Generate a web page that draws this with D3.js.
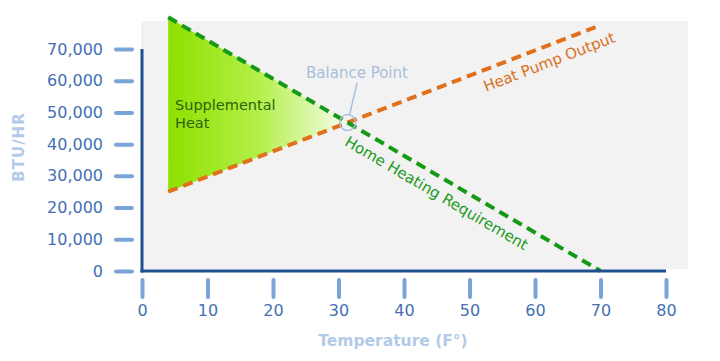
<!DOCTYPE html>
<html>
<head>
<meta charset="utf-8">
<script src="https://cdn.jsdelivr.net/npm/d3@7"></script>
<style>
  body { margin: 0; background: #fff; }
  svg { display: block; font-family: "DejaVu Sans", Verdana, sans-serif; }
</style>
</head>
<body>
<svg id="chart" width="720" height="361"></svg>
<script>
// data
var tempTicks = [0, 10, 20, 30, 40, 50, 60, 70, 80]
var btuTicks = [0, 10000, 20000, 30000, 40000, 50000, 60000, 70000]
var homeTemps = [4, 70]
var homeBtu = [80000, 0]
var pumpTemps = [4, 70]
var pumpBtu = [25000, 77500]

var svg = d3.select("#chart")

// scales
var x = d3.scaleLinear().domain([0, 80]).range([142, 666])
var y = d3.scaleLinear().domain([0, 70000]).range([271, 49])

// plot background
svg.append("rect")
    .attr("x", 141).attr("y", 21)
    .attr("width", 547).attr("height", 248)
    .attr("fill", "#f2f2f2")

// straight line helpers built from the two points of each series
function lineAt(ts, vs) {
    return d3.scaleLinear().domain(ts).range(vs)
}
var home = lineAt(homeTemps, homeBtu)
var pump = lineAt(pumpTemps, pumpBtu)

// balance point = where the two lines cross
var slopeH = (homeBtu[1] - homeBtu[0]) / (homeTemps[1] - homeTemps[0])
var slopeP = (pumpBtu[1] - pumpBtu[0]) / (pumpTemps[1] - pumpTemps[0])
var tBal = homeTemps[0] + (pump(homeTemps[0]) - home(homeTemps[0])) / (slopeH - slopeP)
var vBal = home(tBal)

// gradient for supplemental heat
var defs = svg.append("defs")
var grad = defs.append("linearGradient")
    .attr("id", "suppGrad")
    .attr("gradientUnits", "userSpaceOnUse")
    .attr("x1", x(homeTemps[0])).attr("x2", x(tBal))
    .attr("y1", 0).attr("y2", 0)
grad.append("stop").attr("offset", "0%").attr("stop-color", "#8ee000")
grad.append("stop").attr("offset", "50%").attr("stop-color", "#b4ef48")
grad.append("stop").attr("offset", "100%").attr("stop-color", "#f6fdef")

var area = d3.area()
    .x(function (d) { return x(d) })
    .y0(function (d) { return y(pump(d)) })
    .y1(function (d) { return y(home(d)) })

svg.append("path")
    .datum([homeTemps[0], tBal])
    .attr("d", area)
    .attr("fill", "url(#suppGrad)")

svg.append("text")
    .attr("x", 175).attr("y", 110)
    .attr("font-size", "14.5px")
    .attr("fill", "#2a650a")
    .text("Supplemental")
svg.append("text")
    .attr("x", 175).attr("y", 128)
    .attr("font-size", "14.5px")
    .attr("fill", "#2a650a")
    .text("Heat")

// dashed lines
var line = d3.line()
    .x(function (d) { return x(d[0]) })
    .y(function (d) { return y(d[1]) })

svg.append("path")
    .datum(d3.zip(pumpTemps, pumpBtu))
    .attr("d", line)
    .attr("fill", "none")
    .attr("stroke", "#e0701c")
    .attr("stroke-width", 4)
    .attr("stroke-dasharray", "10,6")

svg.append("path")
    .datum(d3.zip(homeTemps, homeBtu))
    .attr("d", line)
    .attr("fill", "none")
    .attr("stroke", "#149a14")
    .attr("stroke-width", 4)
    .attr("stroke-dasharray", "10,6")

// labels along the lines
function angleOf(ts, vs) {
    var dx = x(ts[1]) - x(ts[0])
    var dy = y(vs[1]) - y(vs[0])
    return Math.atan2(dy, dx) * 180 / Math.PI
}

var tPumpLabel = 61.3
svg.append("text")
    .attr("transform", "translate(" + x(tPumpLabel) + "," + y(pump(tPumpLabel)) + ") rotate(" + angleOf(pumpTemps, pumpBtu) + ")")
    .attr("text-anchor", "middle")
    .attr("dy", 21)
    .attr("font-size", "15px")
    .attr("fill", "#d9701c")
    .text("Heat Pump Output")

var tHomeLabel = 46.2
svg.append("text")
    .attr("transform", "translate(" + x(tHomeLabel) + "," + y(home(tHomeLabel)) + ") rotate(" + angleOf(homeTemps, homeBtu) + ")")
    .attr("text-anchor", "middle")
    .attr("dy", 21)
    .attr("font-size", "15px")
    .attr("fill", "#1a9a1a")
    .text("Home Heating Requirement")

// balance point marker
svg.append("circle")
    .attr("cx", x(tBal)).attr("cy", y(vBal))
    .attr("r", 8)
    .attr("fill", "none")
    .attr("stroke", "#a9c0dc")
    .attr("stroke-width", 1.5)
svg.append("line")
    .attr("x1", 357).attr("y1", 83)
    .attr("x2", x(tBal) + 2).attr("y2", y(vBal) - 8)
    .attr("stroke", "#a9c0dc")
    .attr("stroke-width", 1.5)
svg.append("text")
    .attr("x", 357).attr("y", 78)
    .attr("text-anchor", "middle")
    .attr("font-size", "15px")
    .attr("fill", "#a9bedb")
    .text("Balance Point")

// y axis
var yAxis = svg.append("g")
    .attr("transform", "translate(142,0)")
    .call(d3.axisLeft(y).tickValues(btuTicks).tickFormat(d3.format(",")).tickSize(0))
yAxis.select(".domain").remove()
yAxis.selectAll(".tick line")
    .attr("x1", -26).attr("x2", -10)
    .attr("stroke", "#7aa3d6").attr("stroke-width", 4)
    .attr("stroke-linecap", "round")
yAxis.selectAll(".tick text")
    .attr("x", -39)
    .attr("font-size", "16px")
    .attr("font-family", "DejaVu Sans, Verdana, sans-serif")
    .attr("fill", "#4470b4")

// x axis
var xAxis = svg.append("g")
    .attr("transform", "translate(0,271)")
    .call(d3.axisBottom(x).tickValues(tempTicks).tickSize(0))
xAxis.select(".domain").remove()
xAxis.selectAll(".tick line")
    .attr("y1", 9).attr("y2", 26)
    .attr("stroke", "#7aa3d6").attr("stroke-width", 4)
    .attr("stroke-linecap", "round")
xAxis.selectAll(".tick text")
    .attr("y", 34).attr("dy", "0.71em")
    .attr("font-size", "16px")
    .attr("font-family", "DejaVu Sans, Verdana, sans-serif")
    .attr("fill", "#4470b4")

// dark axis lines
svg.append("line")
    .attr("x1", x(0)).attr("x2", x(0))
    .attr("y1", y(70000)).attr("y2", y(0) + 1.5)
    .attr("stroke", "#1f4f8f").attr("stroke-width", 3)
svg.append("line")
    .attr("x1", x(0) - 1.5).attr("x2", x(80))
    .attr("y1", y(0)).attr("y2", y(0))
    .attr("stroke", "#1f4f8f").attr("stroke-width", 3)

// axis titles
svg.append("text")
    .attr("transform", "translate(24,147) rotate(-90)")
    .attr("text-anchor", "middle")
    .attr("font-size", "15px")
    .attr("font-weight", "bold")
    .attr("letter-spacing", "1px")
    .attr("fill", "#b3cbe8")
    .text("BTU/HR")
svg.append("text")
    .attr("x", 393).attr("y", 346)
    .attr("text-anchor", "middle")
    .attr("font-size", "15.5px")
    .attr("font-weight", "bold")
    .attr("fill", "#b3cbe8")
    .text("Temperature (F°)")
</script>
</body>
</html>
